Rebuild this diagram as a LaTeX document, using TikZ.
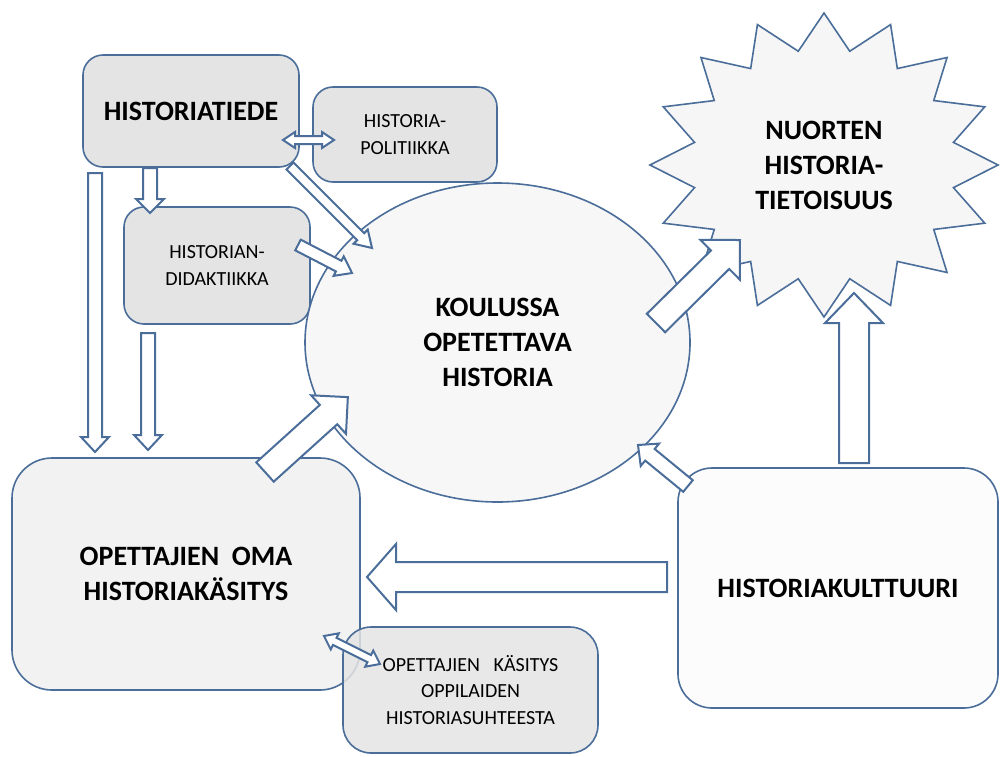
\documentclass[tikz,border=0pt]{standalone}
\usepackage{fontspec}
\setmainfont{Carlito}
\usetikzlibrary{shapes,shapes.geometric,calc}
\definecolor{rimblue}{HTML}{4A6D9A}
\definecolor{boxgray}{HTML}{E4E4E4}
\definecolor{softgray}{HTML}{F2F2F2}
\definecolor{palegray}{HTML}{F6F6F6}
\tikzset{
  box/.style = {rectangle, draw=rimblue, line width=0.8pt, rounded corners=10pt, align=center, inner sep=0pt, outer sep=0pt},
  bigtxt/.style = {font=\fontsize{14}{17.5}\selectfont\bfseries, align=center},
  smalltxt/.style = {font=\fontsize{10}{13.3}\selectfont, align=center},
  blockarr/.style = {draw=rimblue, line width=1pt, fill=white, line join=miter}
}
\newcommand{\arrgeom}[2]{%
	\path let \p1=(#1), \p2=(#2), \n1={atan2(\y2-\y1,\x2-\x1)}, \n2={veclen(\x2-\x1,\y2-\y1)} in
		\pgfextra{\pgfmathsetmacro\arrang{\n1}\global\let\arrang\arrang
			\pgfmathsetmacro\arrlen{\n2}\global\let\arrlen\arrlen};
}
\newcommand{\onearrow}[5]{%
	\arrgeom{#1}{#2}
	\draw[blockarr, shift={(#1)}, rotate=\arrang]
		(0pt,#3pt) -- ({\arrlen pt-#5pt},#3pt) -- ({\arrlen pt-#5pt},#4pt) -- (\arrlen pt,0pt)
		-- ({\arrlen pt-#5pt},-#4pt) -- ({\arrlen pt-#5pt},-#3pt) -- (0pt,-#3pt) -- cycle;
}
\newcommand{\twoarrow}[5]{%
	\arrgeom{#1}{#2}
	\draw[blockarr, shift={(#1)}, rotate=\arrang]
		(0pt,0pt) -- (#5pt,#4pt) -- (#5pt,#3pt) -- ({\arrlen pt-#5pt},#3pt) -- ({\arrlen pt-#5pt},#4pt)
		-- (\arrlen pt,0pt) -- ({\arrlen pt-#5pt},-#4pt) -- ({\arrlen pt-#5pt},-#3pt) -- (#5pt,-#3pt)
		-- (#5pt,-#4pt) -- cycle;
}

\begin{document}
\begin{tikzpicture}[x=0.5pt,y=-0.5pt]
			\useasboundingbox (0,0) rectangle (1000,756);
			\tikzstyle{every node}=[bigtxt]

			\node[box, fill=boxgray, minimum width=108pt, minimum height=56pt] (tiede) at (191,111) {HISTORIATIEDE};
			\node[box, fill=boxgray, minimum width=92pt, minimum height=47.5pt, smalltxt] (poli) at (405,134.5) {HISTORIA-\\POLITIIKKA};
			\node[box, fill=boxgray, minimum width=93pt, minimum height=58.5pt, smalltxt] (dida) at (217,265.5) {HISTORIAN-\\DIDAKTIIKKA};
			\node[box, fill=softgray, rounded corners=20pt, minimum width=174pt, minimum height=116pt] (oma) at (186,574) {OPETTAJIEN\ \ OMA\\HISTORIAKÄSITYS};
			\node[box, fill=boxgray, fill opacity=0.85, text opacity=1, rounded corners=14pt, minimum width=127.5pt, minimum height=63pt, smalltxt] (kasitys) at (470.5,690) {OPETTAJIEN\ \ \ KÄSITYS\\OPPILAIDEN\\HISTORIASUHTEESTA};
			\node[box, fill=white!99!black, rounded corners=17pt, minimum width=160pt, minimum height=120pt] (kult) at (838,588) {HISTORIAKULTTUURI};

			\draw[draw=rimblue, line width=0.8pt, fill=palegray, shift={(824,165)}] (90:174 and 152)
				\foreach \k in {1,...,16} { -- ({90+\k*22.5-11.25}:132 and 116) -- ({90+\k*22.5}:174 and 152) } -- cycle;
			\node (nuoret) at (824,165) {NUORTEN\\HISTORIA-\\TIETOISUUS};

			\node[ellipse, draw=rimblue, line width=0.8pt, fill=palegray, fill opacity=0.9, text opacity=1, minimum width=192.5pt, minimum height=159.5pt, inner sep=0pt] (koulu) at (497.5,342.5) {KOULUSSA\\OPETETTAVA\\HISTORIA};

			\coordinate (tiede-r) at (283,140);
			\coordinate (poli-l) at (334,140);
			\coordinate (tiede-b) at (150,168);
			\coordinate (dida-t) at (150,213);
			\coordinate (tiede-bl) at (95,173);
			\coordinate (oma-tl) at (95,452);
			\coordinate (dida-b) at (148,333);
			\coordinate (oma-t) at (148,450);
			\coordinate (tiede-br) at (290,166);
			\coordinate (koulu-nw) at (372,248);
			\coordinate (dida-r) at (298,245);
			\coordinate (koulu-w) at (352,273);
			\coordinate (oma-tr) at (265,472);
			\coordinate (koulu-sw) at (348,397);
			\coordinate (koulu-ne) at (656,323);
			\coordinate (nuoret-sw) at (740,240);
			\coordinate (kult-t) at (854,463);
			\coordinate (nuoret-s) at (854,293);
			\coordinate (kult-tl) at (688,486);
			\coordinate (koulu-se) at (638,445);
			\coordinate (kult-l) at (667,577);
			\coordinate (oma-r) at (367,577);
			\coordinate (oma-br) at (324,636);
			\coordinate (kasitys-l) at (380,664);

			\twoarrow{tiede-r}{poli-l}{2}{4}{6}
			\onearrow{tiede-b}{dida-t}{3.5}{7}{7}
			\onearrow{tiede-bl}{oma-tl}{3.5}{7}{7.5}
			\onearrow{dida-b}{oma-t}{3.5}{7}{7.5}
			\onearrow{tiede-br}{koulu-nw}{2.5}{5}{8}
			\onearrow{dida-r}{koulu-w}{3}{5.5}{7.5}
			\onearrow{oma-tr}{koulu-sw}{6.5}{13}{13}
			\onearrow{koulu-ne}{nuoret-sw}{6.5}{14}{14}
			\onearrow{kult-t}{nuoret-s}{7.5}{14.5}{15}
			\onearrow{kult-tl}{koulu-se}{3.75}{7.25}{7.7}
			\onearrow{kult-l}{oma-r}{7.5}{16.5}{14.5}
			\twoarrow{oma-br}{kasitys-l}{2}{4.5}{6}
		\end{tikzpicture}
\end{document}
